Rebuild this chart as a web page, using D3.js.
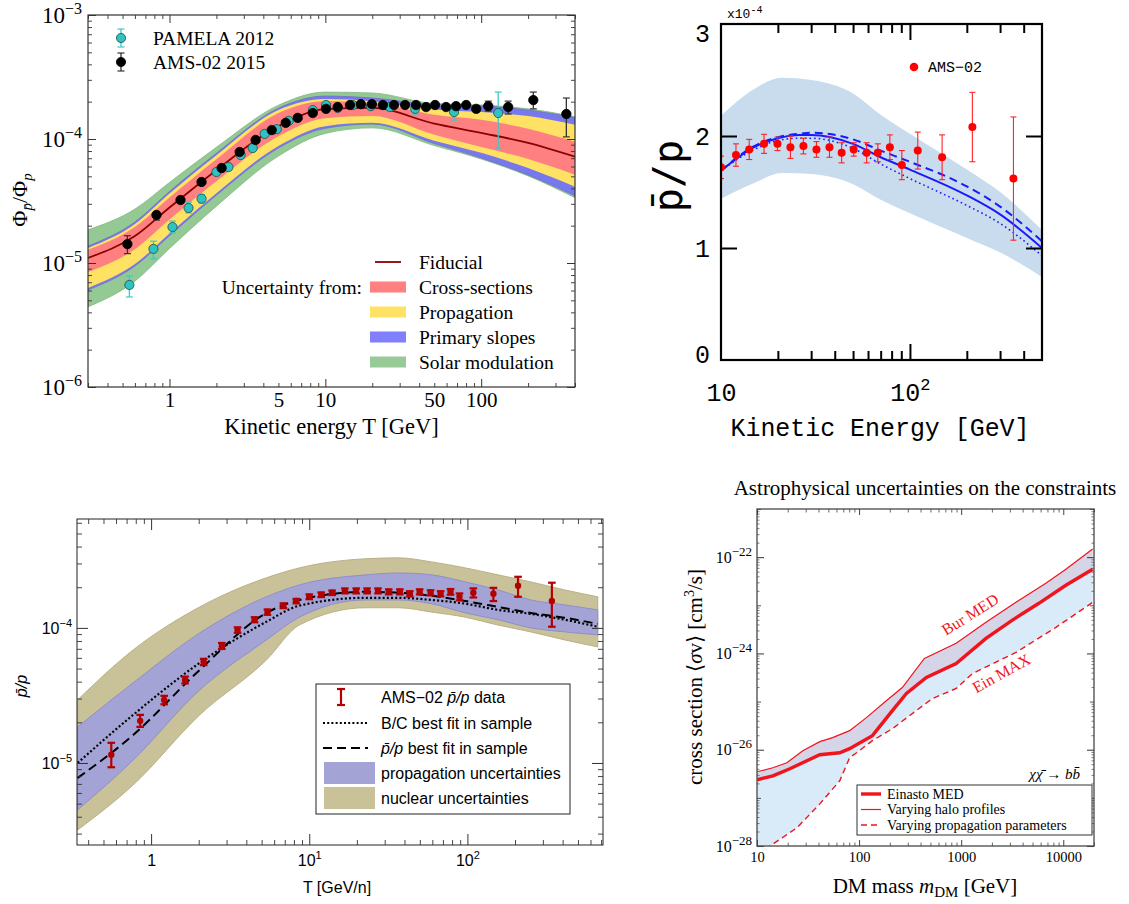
<!DOCTYPE html>
<html><head><meta charset="utf-8"><title>Antiproton ratio panels</title>
<script src="https://cdn.jsdelivr.net/npm/d3@7/dist/d3.min.js"></script>
<style>html,body{margin:0;padding:0;background:#fff;}svg{display:block;}</style>
</head><body>
<svg id="chart" width="1129" height="904" xmlns="http://www.w3.org/2000/svg"></svg>
<script>
// ================= Panel A (top-left) data =================
const aT = [0.3, 0.6, 1, 2, 5, 10, 20, 50, 100, 200, 400];
const aFiducial = [1.10e-5, 1.65e-5, 2.80e-5, 5.60e-5, 1.27e-4, 1.74e-4, 1.78e-4, 1.33e-4, 1.12e-4, 9.3e-5, 7.2e-5];
const aCrossUp = [1.28e-5, 1.95e-5, 3.37e-5, 6.87e-5, 1.62e-4, 2.02e-4, 1.95e-4, 1.57e-4, 1.43e-4, 1.21e-4, 9.5e-5];
const aCrossLo = [8.47e-6, 1.29e-5, 2.24e-5, 4.56e-5, 1.05e-4, 1.47e-4, 1.53e-4, 1.08e-4, 8.63e-5, 6.90e-5, 5.15e-5];
const aPropUp = [1.32e-5, 2.06e-5, 3.63e-5, 7.40e-5, 1.71e-4, 2.10e-4, 2.02e-4, 1.73e-4, 1.65e-4, 1.53e-4, 1.30e-4];
const aPropLo = [6.30e-6, 9.8e-6, 1.73e-5, 3.66e-5, 8.77e-5, 1.27e-4, 1.35e-4, 9.7e-5, 7.73e-5, 5.83e-5, 4.12e-5];
const aSlopeUp = [1.37e-5, 2.14e-5, 3.77e-5, 7.67e-5, 1.77e-4, 2.22e-4, 2.14e-4, 1.89e-4, 1.85e-4, 1.71e-4, 1.49e-4];
const aSlopeLo = [6.07e-6, 9.44e-6, 1.66e-5, 3.52e-5, 8.45e-5, 1.22e-4, 1.32e-4, 9.18e-5, 7.03e-5, 5.13e-5, 3.48e-5];
const aSolarUp = [1.85e-5, 2.72e-5, 4.46e-5, 8.57e-5, 1.87e-4, 2.39e-4, 2.35e-4, 1.93e-4, 1.88e-4, 1.75e-4, 1.51e-4];
const aSolarLo = [4.43e-6, 7.14e-6, 1.31e-5, 2.87e-5, 7.28e-5, 1.11e-4, 1.23e-4, 8.85e-5, 6.90e-5, 5.04e-5, 3.36e-5];

const pamT = [0.553, 0.789, 1.045, 1.325, 1.606, 2.00, 2.39, 2.86, 3.42, 4.08, 4.88, 5.82, 8.31, 10.1, 12.0, 15.0, 19.6, 26.0, 37.7, 67.0, 128.6];
const pamV = [6.65e-6, 1.30e-5, 1.95e-5, 2.78e-5, 3.30e-5, 5.42e-5, 5.94e-5, 7.43e-5, 8.45e-5, 1.10e-4, 1.20e-4, 1.40e-4, 1.71e-4, 1.88e-4, 1.78e-4, 1.88e-4, 1.84e-4, 1.81e-4, 1.75e-4, 1.65e-4, 1.62e-4];
const pamLo = [5.32e-6, 1.08e-5, 1.75e-5, 2.53e-5, 3.05e-5, 5.10e-5, 5.60e-5, 7.05e-5, 8.05e-5, 1.05e-4, 1.15e-4, 1.34e-4, 1.63e-4, 1.79e-4, 1.69e-4, 1.78e-4, 1.74e-4, 1.70e-4, 1.56e-4, 1.42e-4, 8.45e-5];
const pamHi = [7.85e-6, 1.50e-5, 2.18e-5, 3.10e-5, 3.57e-5, 5.75e-5, 6.30e-5, 7.80e-5, 8.85e-5, 1.15e-4, 1.26e-4, 1.47e-4, 1.79e-4, 1.97e-4, 1.88e-4, 1.98e-4, 1.95e-4, 1.93e-4, 1.95e-4, 1.81e-4, 2.39e-4];

const amsT = [0.537, 0.825, 1.177, 1.606, 2.16, 2.82, 3.57, 4.53, 5.57, 6.65, 8.31, 10.1, 12.0, 14.4, 16.9, 19.9, 23.4, 27.6, 32.5, 38.2, 44.3, 50.6, 59.5, 69.0, 80.1, 92.9, 111, 149, 216, 352];
const amsV = [1.42e-5, 2.44e-5, 3.22e-5, 4.50e-5, 5.83e-5, 7.85e-5, 9.82e-5, 1.18e-4, 1.35e-4, 1.48e-4, 1.62e-4, 1.75e-4, 1.81e-4, 1.88e-4, 1.91e-4, 1.91e-4, 1.88e-4, 1.88e-4, 1.88e-4, 1.88e-4, 1.81e-4, 1.88e-4, 1.81e-4, 1.84e-4, 1.88e-4, 1.75e-4, 1.84e-4, 1.81e-4, 2.06e-4, 1.59e-4];
const amsLo = [1.19e-5, 2.22e-5, 3.10e-5, 4.35e-5, 5.65e-5, 7.62e-5, 9.55e-5, 1.15e-4, 1.31e-4, 1.44e-4, 1.57e-4, 1.70e-4, 1.76e-4, 1.83e-4, 1.86e-4, 1.86e-4, 1.83e-4, 1.83e-4, 1.83e-4, 1.82e-4, 1.75e-4, 1.82e-4, 1.74e-4, 1.76e-4, 1.79e-4, 1.66e-4, 1.68e-4, 1.59e-4, 1.75e-4, 1.04e-4];
const amsHi = [1.66e-5, 2.58e-5, 3.34e-5, 4.65e-5, 6.00e-5, 8.08e-5, 1.01e-4, 1.21e-4, 1.39e-4, 1.52e-4, 1.67e-4, 1.80e-4, 1.86e-4, 1.93e-4, 1.96e-4, 1.96e-4, 1.93e-4, 1.93e-4, 1.93e-4, 1.94e-4, 1.87e-4, 1.94e-4, 1.88e-4, 1.92e-4, 1.97e-4, 1.84e-4, 2.02e-4, 2.02e-4, 2.39e-4, 2.14e-4];

const aXTickLabels = [1, 5, 10, 50, 100];
const aYTickLabels = [1e-6, 1e-5, 1e-4, 1e-3];
const aLegendBands = ['Cross-sections', 'Propagation', 'Primary slopes', 'Solar modulation'];

// ================= Panel B (top-right) data =================
const bBandT = [10, 15, 21, 30, 50, 70, 100, 200, 305, 500];
const bBandUp = [2.18, 2.42, 2.52, 2.50, 2.38, 2.19, 2.02, 1.70, 1.49, 1.16];
const bBandLo = [1.44, 1.58, 1.67, 1.66, 1.57, 1.43, 1.31, 1.09, 0.955, 0.74];
const bLineT = [10, 15, 20, 26, 30, 50, 70, 100, 200, 300, 500];
const bSolid = [1.69, 1.90, 1.98, 2.01, 2.01, 1.93, 1.81, 1.70, 1.47, 1.30, 1.00];
const bDashed = [1.69, 1.91, 1.99, 2.02, 2.03, 1.97, 1.87, 1.77, 1.55, 1.37, 1.06];
const bDotted = [1.69, 1.88, 1.96, 1.98, 1.98, 1.89, 1.75, 1.62, 1.38, 1.22, 0.93];
const bDataT = [10, 12.0, 14.1, 16.9, 19.9, 23.3, 27.3, 32.0, 37.5, 43.5, 50.4, 59.0, 67.6, 78.3, 90.6, 110, 148, 214, 353];
const bDataV = [1.72, 1.83, 1.88, 1.93, 1.93, 1.90, 1.91, 1.88, 1.90, 1.85, 1.88, 1.85, 1.85, 1.90, 1.74, 1.87, 1.81, 2.08, 1.62];
const bDataErr = [0.10, 0.10, 0.09, 0.085, 0.06, 0.10, 0.07, 0.07, 0.09, 0.09, 0.06, 0.09, 0.08, 0.11, 0.13, 0.165, 0.20, 0.31, 0.55];
const bYTickLabels = [0, 1, 2, 3];
const bXTickLabels = [10, 100];

// ================= Panel C (bottom-left) data =================
const cT = [0.343, 0.77, 2.03, 5.36, 8.65, 22.8, 36.8, 59.3, 97.1, 156, 252, 412, 667];
const cNucUp = [2.93e-5, 6.87e-5, 1.43e-4, 2.35e-4, 2.78e-4, 3.25e-4, 3.30e-4, 3.08e-4, 2.78e-4, 2.47e-4, 2.19e-4, 1.91e-4, 1.70e-4];
const cNucLo = [3.19e-6, 6.87e-6, 2.27e-5, 5.79e-5, 1.05e-4, 1.41e-4, 1.41e-4, 1.31e-4, 1.20e-4, 1.05e-4, 9.34e-5, 8.15e-5, 7.23e-5];
const cPropUp = [1.85e-5, 3.92e-5, 9.18e-5, 1.70e-4, 2.08e-4, 2.47e-4, 2.55e-4, 2.47e-4, 2.19e-4, 1.91e-4, 1.61e-4, 1.48e-4, 1.36e-4];
const cPropLo = [4.49e-6, 1.05e-5, 3.47e-5, 8.15e-5, 1.20e-4, 1.61e-4, 1.61e-4, 1.51e-4, 1.29e-4, 1.15e-4, 1.00e-4, 9.34e-5, 8.87e-5];
const cDotted = [1.00e-5, 2.27e-5, 5.51e-5, 1.11e-4, 1.46e-4, 1.67e-4, 1.67e-4, 1.61e-4, 1.51e-4, 1.36e-4, 1.27e-4, 1.15e-4, 1.02e-4];
const cDashed = [7.74e-6, 1.61e-5, 4.89e-5, 1.29e-4, 1.61e-4, 1.85e-4, 1.82e-4, 1.73e-4, 1.58e-4, 1.43e-4, 1.29e-4, 1.19e-4, 1.07e-4];
const cDataT = [0.560, 0.853, 1.21, 1.64, 2.15, 2.80, 3.52, 4.51, 5.44, 6.86, 8.28, 10.0, 11.9, 13.95, 16.8, 19.8, 23.2, 27.2, 31.8, 37.4, 43.2, 49.9, 58.5, 67.7, 78.2, 89.1, 109, 146, 209, 342];
const cDataV = [1.15e-5, 2.05e-5, 2.93e-5, 4.12e-5, 5.60e-5, 7.36e-5, 9.67e-5, 1.15e-4, 1.31e-4, 1.46e-4, 1.58e-4, 1.70e-4, 1.76e-4, 1.82e-4, 1.88e-4, 1.88e-4, 1.88e-4, 1.88e-4, 1.85e-4, 1.85e-4, 1.79e-4, 1.85e-4, 1.82e-4, 1.79e-4, 1.85e-4, 1.70e-4, 1.82e-4, 1.79e-4, 2.05e-4, 1.58e-4];
const cDataLo = [9.3e-6, 1.85e-5, 2.72e-5, 3.88e-5, 5.30e-5, 6.98e-5, 9.20e-5, 1.10e-4, 1.25e-4, 1.40e-4, 1.52e-4, 1.63e-4, 1.69e-4, 1.75e-4, 1.80e-4, 1.80e-4, 1.80e-4, 1.80e-4, 1.77e-4, 1.77e-4, 1.71e-4, 1.77e-4, 1.74e-4, 1.71e-4, 1.76e-4, 1.60e-4, 1.68e-4, 1.58e-4, 1.70e-4, 1.02e-4];
const cDataHi = [1.41e-5, 2.27e-5, 3.14e-5, 4.36e-5, 5.90e-5, 7.74e-5, 1.01e-4, 1.20e-4, 1.37e-4, 1.52e-4, 1.64e-4, 1.77e-4, 1.83e-4, 1.89e-4, 1.96e-4, 1.96e-4, 1.96e-4, 1.96e-4, 1.93e-4, 1.93e-4, 1.87e-4, 1.93e-4, 1.90e-4, 1.87e-4, 1.94e-4, 1.80e-4, 1.96e-4, 1.98e-4, 2.39e-4, 2.16e-4];
const cXTickLabels = [1, 10, 100];
const cYTickLabels = [1e-5, 1e-4];

// ================= Panel D (bottom-right) data =================
const dMassThick = [10, 14.3, 21, 30.8, 41.2, 64.6, 80.7, 135, 212, 291, 456, 893, 1750, 3150, 5770, 10600, 19400];
const dThick = [2.37e-27, 2.87e-27, 4.02e-27, 5.90e-27, 7.87e-27, 8.65e-27, 1.05e-26, 1.96e-26, 6.49e-26, 1.47e-25, 3.16e-25, 6.19e-25, 2.05e-24, 4.86e-24, 1.10e-23, 2.61e-23, 5.62e-23];
const dMassThin = [10, 14.3, 19.6, 28.1, 41.2, 55.1, 80.7, 118, 186, 265, 436, 893, 1750, 3440, 6750, 10600, 19400];
const dThin = [3.48e-27, 4.22e-27, 5.36e-27, 9.53e-27, 1.47e-26, 1.78e-26, 2.49e-26, 4.64e-26, 1.05e-25, 1.96e-25, 7.87e-25, 1.62e-24, 4.43e-24, 1.15e-23, 2.87e-23, 5.62e-23, 1.47e-22];
const dMassDash = [10, 13.4, 24.5, 41.2, 64.6, 80.7, 94.5, 135, 212, 363, 520, 893, 1290, 3440, 8470, 19400];
const dDash = [6.6e-29, 1.0e-28, 2.37e-28, 7.50e-28, 2.26e-27, 6.81e-27, 8.65e-27, 1.54e-26, 2.74e-26, 6.49e-26, 1.15e-25, 1.87e-25, 3.83e-25, 1.05e-24, 3.48e-24, 1.15e-23];
const dXTickLabels = [10, 100, 1000, 10000];
const dYTickLabels = [1e-28, 1e-26, 1e-24, 1e-22];

// ================= helpers =================
const svg = d3.select('#chart');
svg.append('rect').attr('width', 1129).attr('height', 904).attr('fill', '#fff');
const defs = svg.append('defs');
function clip(id, x0, y0, x1, y1) {
  defs.append('clipPath').attr('id', id).append('rect')
    .attr('x', x0).attr('y', y0).attr('width', x1 - x0).attr('height', y1 - y0);
  return `url(#${id})`;
}
const AX = {bottom: d3.axisBottom, top: d3.axisTop, left: d3.axisLeft, right: d3.axisRight};
function tr(orient, pos) { return (orient === 'bottom' || orient === 'top') ? `translate(0,${pos})` : `translate(${pos},0)`; }
function tickSet(g, scale, orient, pos, values, len, color, width) {
  const a = AX[orient](scale).tickValues(values).tickSize(-len).tickFormat(() => '');
  const s = g.append('g').attr('transform', tr(orient, pos)).call(a);
  s.select('.domain').remove();
  s.selectAll('.tick text').remove();
  s.selectAll('.tick line').attr('stroke', color).attr('stroke-width', width);
  return s;
}
function labelSet(g, scale, orient, pos, values, pad, family, size, fmt) {
  const a = AX[orient](scale).tickValues(values).tickSize(0).tickPadding(pad).tickFormat(() => '');
  const s = g.append('g').attr('transform', tr(orient, pos)).call(a);
  s.select('.domain').remove();
  s.selectAll('.tick line').remove();
  s.attr('font-family', null).attr('font-size', null);
  s.selectAll('.tick text').attr('font-family', family).attr('font-size', size).attr('fill', '#000')
    .each(function (d) { fmt(d3.select(this), d); });
  return s;
}
function supFmt(supSize, rise) {
  return (sel, d) => {
    const e = Math.round(Math.log10(d));
    sel.text(null);
    sel.append('tspan').text('10');
    sel.append('tspan').attr('font-size', supSize).attr('dy', -rise).text((e < 0 ? '\u2212' : '') + Math.abs(e));
  };
}
function logMinor(lo, hi, skipDecades) {
  const out = [];
  for (let e = Math.floor(Math.log10(lo)) - 1; e <= Math.ceil(Math.log10(hi)); e++) {
    for (let m = 1; m < 10; m++) {
      if (skipDecades && m === 1) continue;
      const v = m * Math.pow(10, e);
      if (v >= lo * 0.9999 && v <= hi * 1.0001) out.push(v);
    }
  }
  return out;
}
function decades(lo, hi) {
  const out = [];
  for (let e = Math.ceil(Math.log10(lo) - 1e-9); e <= Math.floor(Math.log10(hi) + 1e-9); e++) out.push(Math.pow(10, e));
  return out;
}

// ================= Panel A =================
(function () {
  const SER = "'Liberation Serif', 'Times New Roman', serif";
  const L = 88, R = 575, T = 15, B = 387;
  const x = d3.scaleLog().domain([0.3, 400]).range([L, R]);
  const y = d3.scaleLog().domain([1e-6, 1e-3]).range([B, T]);
  const g = svg.append('g');
  const plot = g.append('g').attr('clip-path', clip('clipA', L, T, R, B));
  function band(up, lo, fill, stroke) {
    const area = d3.area().x((d, i) => x(aT[i])).y0((d, i) => y(lo[i])).y1(d => y(d)).curve(d3.curveMonotoneX);
    plot.append('path').attr('d', area(up)).attr('fill', fill).attr('stroke', stroke).attr('stroke-width', 0.8);
  }
  band(aSolarUp, aSolarLo, '#94c994', '#80b880');
  band(aSlopeUp, aSlopeLo, '#7878ee', '#7070c8');
  band(aPropUp, aPropLo, '#ffe263', 'none');
  band(aCrossUp, aCrossLo, '#ff8080', 'none');
  plot.append('path')
    .attr('d', d3.line().x((d, i) => x(aT[i])).y(d => y(d)).curve(d3.curveMonotoneX)(aFiducial))
    .attr('fill', 'none').attr('stroke', '#8b0000').attr('stroke-width', 1.8);

  function series(Ts, Vs, Lo, Hi, fill, stroke, errColor, r) {
    const gg = plot.append('g');
    Ts.forEach((t, i) => {
      const cx = x(t), y0 = y(Lo[i]), y1 = y(Hi[i]);
      gg.append('line').attr('x1', cx).attr('x2', cx).attr('y1', y0).attr('y2', y1).attr('stroke', errColor).attr('stroke-width', 1.3);
      gg.append('line').attr('x1', cx - 3.5).attr('x2', cx + 3.5).attr('y1', y0).attr('y2', y0).attr('stroke', errColor).attr('stroke-width', 1.2);
      gg.append('line').attr('x1', cx - 3.5).attr('x2', cx + 3.5).attr('y1', y1).attr('y2', y1).attr('stroke', errColor).attr('stroke-width', 1.2);
    });
    gg.selectAll('circle').data(Vs).enter().append('circle')
      .attr('cx', (d, i) => x(Ts[i])).attr('cy', d => y(d)).attr('r', r)
      .attr('fill', fill).attr('stroke', stroke).attr('stroke-width', 0.8);
  }
  series(pamT, pamV, pamLo, pamHi, '#2ec2c2', '#1d4d4d', '#3ccaca', 4.6);
  series(amsT, amsV, amsLo, amsHi, '#000', '#000', '#333', 4.7);

  g.append('rect').attr('x', L).attr('y', T).attr('width', R - L).attr('height', B - T)
    .attr('fill', 'none').attr('stroke', '#333').attr('stroke-width', 1.2);
  const xMinor = logMinor(0.3, 400, true), xMajor = decades(0.3, 400);
  const yMinor = logMinor(1e-6, 1e-3, true), yMajor = decades(1e-6, 1e-3);
  [['bottom', B], ['top', T]].forEach(([o, p]) => { tickSet(g, x, o, p, xMinor, 4, '#333', 0.9); tickSet(g, x, o, p, xMajor, 8, '#333', 1); });
  [['left', L], ['right', R]].forEach(([o, p]) => { tickSet(g, y, o, p, yMinor, 4, '#333', 0.9); tickSet(g, y, o, p, yMajor, 8, '#333', 1); });
  labelSet(g, x, 'bottom', B, aXTickLabels, 5, SER, 21, (s, d) => s.text(String(d)));
  labelSet(g, y, 'left', L, aYTickLabels, 6, SER, 23, supFmt(16, 9));

  g.append('text').attr('x', (L + R) / 2).attr('y', 434).attr('text-anchor', 'middle')
    .attr('font-family', SER).attr('font-size', 22.5).text('Kinetic energy T [GeV]');
  const yl = g.append('text').attr('transform', 'translate(27,200) rotate(-90)').attr('text-anchor', 'middle')
    .attr('font-family', SER).attr('font-size', 22);
  yl.append('tspan').text('Φ');
  yl.append('tspan').attr('font-size', 15).attr('font-style', 'italic').attr('dy', 5).text('p\u0304');
  yl.append('tspan').attr('dy', -5).text('/Φ');
  yl.append('tspan').attr('font-size', 15).attr('font-style', 'italic').attr('dy', 5).text('p');

  // top legend (data)
  const leg = [['PAMELA 2012', '#2ec2c2', '#1d4d4d', '#3ccaca', 38], ['AMS-02 2015', '#000', '#000', '#333', 62]];
  leg.forEach(([name, f, s, e, cy]) => {
    g.append('line').attr('x1', 121).attr('x2', 121).attr('y1', cy - 9).attr('y2', cy + 9).attr('stroke', e).attr('stroke-width', 1.3);
    g.append('line').attr('x1', 117.5).attr('x2', 124.5).attr('y1', cy - 9).attr('y2', cy - 9).attr('stroke', e).attr('stroke-width', 1.2);
    g.append('line').attr('x1', 117.5).attr('x2', 124.5).attr('y1', cy + 9).attr('y2', cy + 9).attr('stroke', e).attr('stroke-width', 1.2);
    g.append('circle').attr('cx', 121).attr('cy', cy).attr('r', 4.6).attr('fill', f).attr('stroke', s).attr('stroke-width', 0.8);
    g.append('text').attr('x', 153).attr('y', cy + 6.5).attr('font-family', SER).attr('font-size', 19.5).text(name);
  });
  // bottom legend (bands)
  g.append('line').attr('x1', 375).attr('x2', 401).attr('y1', 262).attr('y2', 262).attr('stroke', '#8b0000').attr('stroke-width', 1.8);
  g.append('text').attr('x', 419).attr('y', 268.5).attr('font-family', SER).attr('font-size', 19.5).text('Fiducial');
  g.append('text').attr('x', 362).attr('y', 293.5).attr('text-anchor', 'end').attr('font-family', SER).attr('font-size', 19.5).text('Uncertainty from:');
  const bandColors = ['#ff8080', '#ffe263', '#8080ff', '#98ca98'];
  aLegendBands.forEach((name, i) => {
    const cy = 287 + 25 * i;
    g.append('rect').attr('x', 370).attr('y', cy - 5.5).attr('width', 36).attr('height', 11).attr('fill', bandColors[i]);
    g.append('text').attr('x', 419).attr('y', cy + 6.5).attr('font-family', SER).attr('font-size', 19.5).text(name);
  });
})();

// ================= Panel B =================
(function () {
  const MONO = "'Liberation Mono', 'DejaVu Sans Mono', monospace";
  const L = 721, R = 1042, T = 24, B = 360;
  const x = d3.scaleLog().domain([10, 500]).range([L, R]);
  const y = d3.scaleLinear().domain([0, 3]).range([B, T]);
  const g = svg.append('g');
  const plot = g.append('g').attr('clip-path', clip('clipB', L, T, R, B));
  plot.append('path')
    .attr('d', d3.area().x((d, i) => x(bBandT[i])).y0((d, i) => y(bBandLo[i])).y1(d => y(d)).curve(d3.curveMonotoneX)(bBandUp))
    .attr('fill', '#c8dcee');
  const line = d3.line().x((d, i) => x(bLineT[i])).y(d => y(d)).curve(d3.curveMonotoneX);
  plot.append('path').attr('d', line(bDotted)).attr('fill', 'none').attr('stroke', '#1a1aff').attr('stroke-width', 1.6).attr('stroke-dasharray', '1.6,3');
  plot.append('path').attr('d', line(bDashed)).attr('fill', 'none').attr('stroke', '#1a1aff').attr('stroke-width', 2).attr('stroke-dasharray', '8,5');
  plot.append('path').attr('d', line(bSolid)).attr('fill', 'none').attr('stroke', '#1a1aff').attr('stroke-width', 2);
  bDataT.forEach((t, i) => {
    const cx = x(t), y0 = y(bDataV[i] - bDataErr[i]), y1 = y(bDataV[i] + bDataErr[i]);
    plot.append('line').attr('x1', cx).attr('x2', cx).attr('y1', y0).attr('y2', y1).attr('stroke', '#f22').attr('stroke-width', 1.1);
    [y0, y1].forEach(yy => plot.append('line').attr('x1', cx - 3).attr('x2', cx + 3).attr('y1', yy).attr('y2', yy).attr('stroke', '#f22').attr('stroke-width', 1.1));
  });
  plot.selectAll('circle.pt').data(bDataV).enter().append('circle').attr('class', 'pt')
    .attr('cx', (d, i) => x(bDataT[i])).attr('cy', d => y(d)).attr('r', 4).attr('fill', '#ff0000');

  g.append('rect').attr('x', L).attr('y', T).attr('width', R - L).attr('height', B - T)
    .attr('fill', 'none').attr('stroke', '#000').attr('stroke-width', 2.2);
  const xMinor = [20, 30, 40, 50, 60, 70, 80, 90, 200, 300, 400];
  [['bottom', B], ['top', T]].forEach(([o, p]) => { tickSet(g, x, o, p, xMinor, 9, '#000', 2); tickSet(g, x, o, p, [100], 16, '#000', 2); });
  [['left', L], ['right', R]].forEach(([o, p]) => { tickSet(g, y, o, p, [1, 2], 16, '#000', 2); });
  const yl = labelSet(g, y, 'left', L, bYTickLabels, 11, MONO, 25, (s, d) => s.text(String(d)));
  yl.selectAll('.tick text').attr('transform', d => d === 3 ? 'translate(0,9)' : d === 0 ? 'translate(0,-6)' : null);
  labelSet(g, x, 'bottom', B, bXTickLabels, 23, MONO, 25, (s, d) => {
    if (d === 10) s.text('10'); else supFmt(17, 11)(s, d);
  });
  const mult = g.append('text').attr('x', 727).attr('y', 18).attr('font-family', MONO).attr('font-size', 13);
  mult.append('tspan').text('x10');
  mult.append('tspan').attr('dy', -5).attr('font-size', 10).text('-4');
  g.append('text').attr('x', 880).attr('y', 436).attr('text-anchor', 'middle').attr('font-family', MONO)
    .attr('font-size', 26).attr('textLength', 299).attr('lengthAdjust', 'spacingAndGlyphs').text('Kinetic Energy [GeV]');
  g.append('text').attr('transform', 'translate(682,176) rotate(-90)').attr('text-anchor', 'middle')
    .attr('font-family', "'DejaVu Sans Mono', monospace").attr('font-size', 40).text('p\u0304/p');
  // legend
  g.append('circle').attr('cx', 914).attr('cy', 67).attr('r', 4.3).attr('fill', '#ff0000');
  g.append('text').attr('x', 928).attr('y', 72).attr('font-family', MONO).attr('font-size', 15).text('AMS\u221202');
})();

// ================= Panel C =================
(function () {
  const SANS = "'Liberation Sans', Arial, sans-serif";
  const L = 77, R = 603, T = 519, B = 845;
  const x = d3.scaleLog().domain([0.34, 720]).range([L, R]);
  const y = d3.scaleLog().domain([2.47e-6, 6.4e-4]).range([B, T]);
  const g = svg.append('g');
  const plot = g.append('g').attr('clip-path', clip('clipC', L, T, R, B));
  function band(up, lo, fill, stroke) {
    const area = d3.area().x((d, i) => x(cT[i])).y0((d, i) => y(lo[i])).y1(d => y(d)).curve(d3.curveMonotoneX);
    plot.append('path').attr('d', area(up)).attr('fill', fill).attr('stroke', stroke).attr('stroke-width', 1);
  }
  band(cNucUp, cNucLo, '#c9c298', '#b8b086');
  band(cPropUp, cPropLo, '#a3a3d6', '#8f8fc8');
  const line = d3.line().x((d, i) => x(cT[i])).y(d => y(d)).curve(d3.curveMonotoneX);
  plot.append('path').attr('d', line(cDotted)).attr('fill', 'none').attr('stroke', '#000').attr('stroke-width', 2.2).attr('stroke-dasharray', '2,2.2');
  plot.append('path').attr('d', line(cDashed)).attr('fill', 'none').attr('stroke', '#000').attr('stroke-width', 2).attr('stroke-dasharray', '9,5');
  const red = '#b30000';
  cDataT.forEach((t, i) => {
    const cx = x(t), y0 = y(cDataLo[i]), y1 = y(cDataHi[i]);
    plot.append('line').attr('x1', cx).attr('x2', cx).attr('y1', y0).attr('y2', y1).attr('stroke', red).attr('stroke-width', 2.2);
    [y0, y1].forEach(yy => plot.append('line').attr('x1', cx - 3.8).attr('x2', cx + 3.8).attr('y1', yy).attr('y2', yy).attr('stroke', red).attr('stroke-width', 2.2));
  });
  plot.selectAll('circle.pt').data(cDataV).enter().append('circle').attr('class', 'pt')
    .attr('cx', (d, i) => x(cDataT[i])).attr('cy', d => y(d)).attr('r', 3.2).attr('fill', red);

  g.append('rect').attr('x', L).attr('y', T).attr('width', R - L).attr('height', B - T)
    .attr('fill', 'none').attr('stroke', '#222').attr('stroke-width', 1);
  const xMinor = logMinor(0.34, 720, true), xMajor = decades(0.34, 720);
  const yMinor = logMinor(2.47e-6, 6.4e-4, true), yMajor = decades(2.47e-6, 6.4e-4);
  [['bottom', B], ['top', T]].forEach(([o, p]) => { tickSet(g, x, o, p, xMinor, 5, '#333', 0.9); tickSet(g, x, o, p, xMajor, 11, '#333', 1); });
  [['left', L], ['right', R]].forEach(([o, p]) => { tickSet(g, y, o, p, yMinor, 5, '#333', 0.9); tickSet(g, y, o, p, yMajor, 11, '#333', 1); });
  labelSet(g, x, 'bottom', B, cXTickLabels, 10, SANS, 16, (s, d) => { if (d === 1) s.text('1'); else supFmt(11, 7)(s, d); });
  labelSet(g, y, 'left', L, cYTickLabels, 5, SANS, 16, supFmt(11, 7));
  g.append('text').attr('x', 337).attr('y', 893).attr('text-anchor', 'middle').attr('font-family', SANS).attr('font-size', 16).text('T [GeV/n]');
  g.append('text').attr('transform', 'translate(27,686) rotate(-90)').attr('text-anchor', 'middle')
    .attr('font-family', SANS).attr('font-size', 16).attr('font-style', 'italic').text('p\u0304/p');

  // legend
  g.append('rect').attr('x', 316).attr('y', 684).attr('width', 254).attr('height', 130).attr('fill', '#fff').attr('stroke', '#222').attr('stroke-width', 1);
  const rows = [697, 723, 748, 773, 798];
  g.append('line').attr('x1', 341).attr('x2', 341).attr('y1', rows[0] - 8).attr('y2', rows[0] + 8).attr('stroke', red).attr('stroke-width', 2.2);
  [rows[0] - 8, rows[0] + 8].forEach(yy => g.append('line').attr('x1', 337).attr('x2', 345).attr('y1', yy).attr('y2', yy).attr('stroke', red).attr('stroke-width', 2.2));
  g.append('line').attr('x1', 323).attr('x2', 368).attr('y1', rows[1]).attr('y2', rows[1]).attr('stroke', '#000').attr('stroke-width', 2.2).attr('stroke-dasharray', '2,2.2');
  g.append('line').attr('x1', 323).attr('x2', 368).attr('y1', rows[2]).attr('y2', rows[2]).attr('stroke', '#000').attr('stroke-width', 2).attr('stroke-dasharray', '9,5');
  g.append('rect').attr('x', 324).attr('y', rows[3] - 11).attr('width', 51).attr('height', 22).attr('fill', '#a3a3d6');
  g.append('rect').attr('x', 324).attr('y', rows[4] - 11).attr('width', 51).attr('height', 22).attr('fill', '#c9c298');
  const texts = [
    [['AMS\u221202 ', null], ['p\u0304/p', 'italic'], [' data', null]],
    [['B/C best fit in sample', null]],
    [['p\u0304/p', 'italic'], [' best fit in sample', null]],
    [['propagation uncertainties', null]],
    [['nuclear uncertainties', null]]
  ];
  texts.forEach((parts, i) => {
    const t = g.append('text').attr('x', 381).attr('y', rows[i] + 5.5).attr('font-family', SANS).attr('font-size', 16);
    parts.forEach(([s, st]) => t.append('tspan').attr('font-style', st).text(s));
  });
})();

// ================= Panel D =================
(function () {
  const SER = "'Liberation Serif', 'Times New Roman', serif";
  const L = 757, R = 1094, T = 509, B = 846;
  const x = d3.scaleLog().domain([10, 20000]).range([L, R]);
  const y = d3.scaleLog().domain([1e-28, 1e-21]).range([B, T]);
  const g = svg.append('g');
  const plot = g.append('g').attr('clip-path', clip('clipD', L, T, R, B));
  const thick = dMassThick.map((m, i) => [m, dThick[i]]);
  const thin = dMassThin.map((m, i) => [m, dThin[i]]);
  const dash = dMassDash.map((m, i) => [m, dDash[i]]);
  const line = d3.line().x(d => x(d[0])).y(d => y(d[1]));
  const between = (up, lo) => line(up) + 'L' + line(lo.slice().reverse()).slice(1) + 'Z';
  plot.append('path').attr('d', between(thick, dash)).attr('fill', '#d9ebf9');
  plot.append('path').attr('d', between(thin, thick)).attr('fill', '#d6d4e7');
  plot.append('path').attr('d', line(dash)).attr('fill', 'none').attr('stroke', '#f0141c').attr('stroke-width', 1.4).attr('stroke-dasharray', '6,4');
  plot.append('path').attr('d', line(thin)).attr('fill', 'none').attr('stroke', '#f0141c').attr('stroke-width', 1.2);
  plot.append('path').attr('d', line(thick)).attr('fill', 'none').attr('stroke', '#f0141c').attr('stroke-width', 3.4);

  g.append('rect').attr('x', L).attr('y', T).attr('width', R - L).attr('height', B - T)
    .attr('fill', 'none').attr('stroke', '#555').attr('stroke-width', 1.4);
  const xMinor = logMinor(10, 20000, true), xMajor = decades(10, 20000);
  const yMinor = logMinor(1e-28, 1e-21, true), yDec = decades(1e-28, 1e-21);
  const yOdd = yDec.filter(v => !dYTickLabels.includes(v));
  [['bottom', B], ['top', T]].forEach(([o, p]) => { tickSet(g, x, o, p, xMinor, 3.5, '#444', 0.8); tickSet(g, x, o, p, xMajor, 6, '#444', 1); });
  [['left', L], ['right', R]].forEach(([o, p]) => {
    tickSet(g, y, o, p, yMinor, 2.5, '#444', 0.7); tickSet(g, y, o, p, yOdd, 4, '#444', 0.9); tickSet(g, y, o, p, dYTickLabels, 7, '#444', 1.1);
  });
  labelSet(g, x, 'bottom', B, dXTickLabels, 6, SER, 14.5, (s, d) => s.text(String(d)));
  labelSet(g, y, 'left', L, dYTickLabels, 5, SER, 16, supFmt(13, 7));

  g.append('text').attr('x', 925).attr('y', 495).attr('text-anchor', 'middle').attr('font-family', SER).attr('font-size', 21)
    .text('Astrophysical uncertainties on the constraints');
  const xl = g.append('text').attr('x', 925).attr('y', 893).attr('text-anchor', 'middle').attr('font-family', SER).attr('font-size', 21);
  xl.append('tspan').text('DM mass ');
  xl.append('tspan').attr('font-style', 'italic').text('m');
  xl.append('tspan').attr('font-size', 15).attr('dy', 4).text('DM');
  xl.append('tspan').attr('dy', -4).text(' [GeV]');
  const yl = g.append('text').attr('transform', 'translate(702,677) rotate(-90)').attr('text-anchor', 'middle')
    .attr('font-family', SER).attr('font-size', 21);
  yl.append('tspan').text('cross section \u27E8');
  yl.append('tspan').attr('font-style', 'italic').text('σ');
  yl.append('tspan').text('v\u27E9 [cm');
  yl.append('tspan').attr('font-size', 14).attr('dy', -8).text('3');
  yl.append('tspan').attr('dy', 8).text('/s]');

  g.append('text').attr('transform', 'translate(973,619) rotate(-32)').attr('text-anchor', 'middle')
    .attr('font-family', SER).attr('font-size', 16).attr('fill', '#f0141c').text('Bur MED');
  g.append('text').attr('transform', 'translate(1004,678) rotate(-29)').attr('text-anchor', 'middle')
    .attr('font-family', SER).attr('font-size', 16).attr('fill', '#f0141c').text('Ein MAX');
  const ch = g.append('text').attr('x', 1080).attr('y', 779).attr('text-anchor', 'end').attr('font-family', SER).attr('font-size', 15).attr('font-style', 'italic');
  ch.text('\u03C7\u03C7\u0304 \u2192 bb\u0304');

  g.append('rect').attr('x', 857).attr('y', 785).attr('width', 235).attr('height', 50).attr('fill', '#fff').attr('stroke', '#333').attr('stroke-width', 1);
  const rows = [[794, 3.4, null, 'Einasto MED'], [809.5, 1.2, null, 'Varying halo profiles'], [825, 1.4, '6,4', 'Varying propagation parameters']];
  rows.forEach(([cy, w, da, name]) => {
    g.append('line').attr('x1', 861).attr('x2', 881).attr('y1', cy).attr('y2', cy).attr('stroke', '#f0141c').attr('stroke-width', w).attr('stroke-dasharray', da);
    g.append('text').attr('x', 887).attr('y', cy + 4.5).attr('font-family', SER).attr('font-size', 14).text(name);
  });
})();
</script>
</body></html>
